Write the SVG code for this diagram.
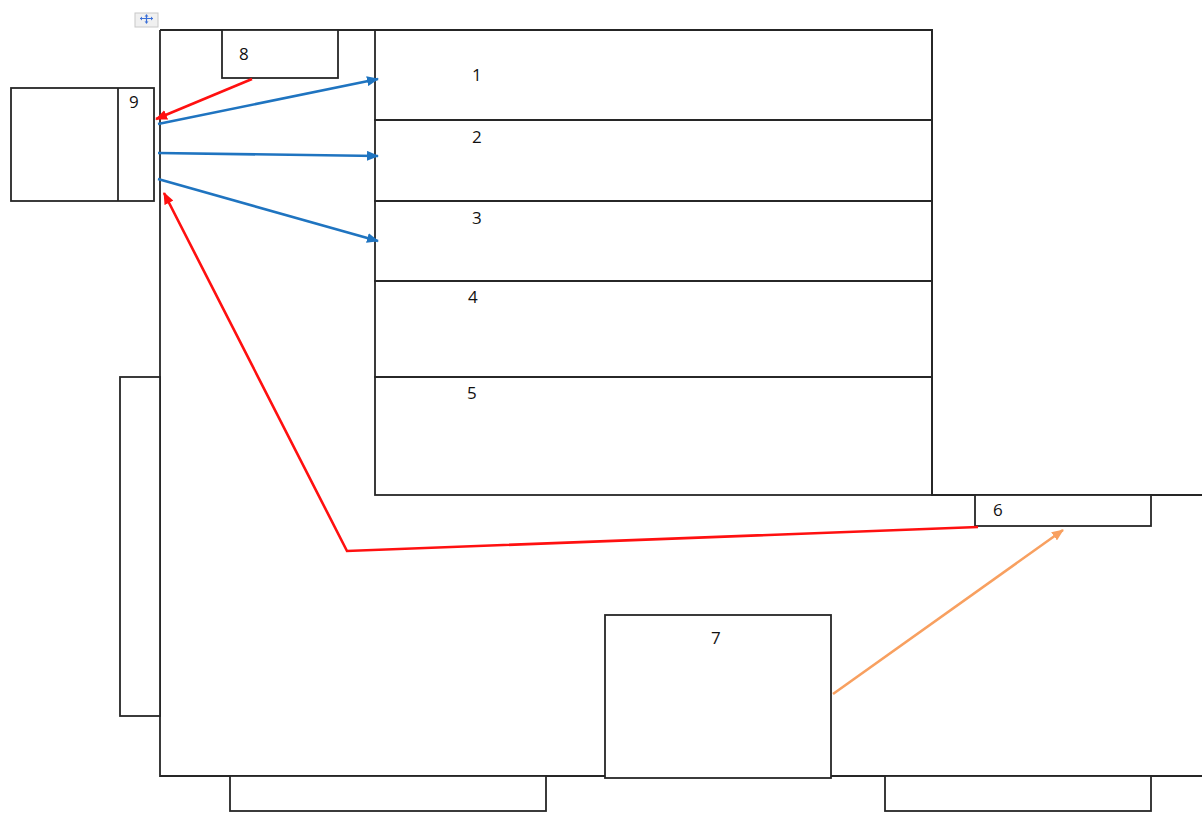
<svg xmlns="http://www.w3.org/2000/svg" width="1202" height="816" viewBox="0 0 1202 816">
<style>
.b{fill:none;stroke:#262626;stroke-width:1.8}
.w{fill:#fff;stroke:#262626;stroke-width:1.8}
.t{font-family:"Open Sans","Liberation Sans",sans-serif;font-size:17px;fill:#111}
.red{stroke:#ff1010;stroke-width:2.6;fill:none}
.blue{stroke:#1f74c0;stroke-width:2.6;fill:none}
.org{stroke:#f8a060;stroke-width:2.6;fill:none}
</style>
<defs>
<marker id="ar" markerWidth="12" markerHeight="10" refX="11" refY="5" orient="auto" markerUnits="userSpaceOnUse"><path d="M0,0 L12,5 L0,10 z" fill="#ff1010"/></marker>
<marker id="ab" markerWidth="12" markerHeight="10" refX="11" refY="5" orient="auto" markerUnits="userSpaceOnUse"><path d="M0,0 L12,5 L0,10 z" fill="#1f74c0"/></marker>
<marker id="ao" markerWidth="12" markerHeight="10" refX="11" refY="5" orient="auto" markerUnits="userSpaceOnUse"><path d="M0,0 L12,5 L0,10 z" fill="#f8a060"/></marker>
</defs>
<rect width="1202" height="816" fill="#fff"/>
<g id="handle">
<rect x="135" y="13" width="23" height="14" fill="#f0f0f0" stroke="#c8c8c8" stroke-width="1"/>
<path d="M140,18.5 H153 M146.5,14.5 V23.5" stroke="#3a6fd8" stroke-width="1.2"/>
<path d="M140,18.5 l2,-2 v4 z M153,18.5 l-2,-2 v4 z M146.5,23.5 l-2,-2 h4 z M146.5,14.5 l-2,2 h4 z" fill="#3a6fd8"/>
</g>
<g id="outline">
<path class="b" d="M160,30 H932 V495 H1202 M160,30 V776 H1202"/>
</g>
<g id="left-panel"><rect class="w" x="120" y="377" width="40" height="339"/></g>
<g id="n1"><rect class="b" x="375" y="30" width="557" height="90"/><text class="t" x="472" y="81">1</text></g>
<g id="n2"><rect class="b" x="375" y="120" width="557" height="81"/><text class="t" x="472" y="143">2</text></g>
<g id="n3"><rect class="b" x="375" y="201" width="557" height="80"/><text class="t" x="472" y="224">3</text></g>
<g id="n4"><rect class="b" x="375" y="281" width="557" height="96"/><text class="t" x="468" y="303">4</text></g>
<g id="n5"><rect class="b" x="375" y="377" width="557" height="118"/><text class="t" x="467" y="399">5</text></g>
<g id="n6"><rect class="w" x="975" y="495" width="176" height="31"/><text class="t" x="993" y="516">6</text></g>
<g id="n7"><rect class="w" x="605" y="615" width="226" height="163"/><text class="t" x="711" y="644">7</text></g>
<g id="n8"><rect class="w" x="222" y="30" width="116" height="48"/><text class="t" x="239" y="60">8</text></g>
<g id="n9"><rect class="w" x="11" y="88" width="143" height="113"/><line class="b" x1="118" y1="88" x2="118" y2="201"/><text class="t" x="129" y="108">9</text></g>
<g id="bottom-a"><rect class="w" x="230" y="776" width="316" height="35"/></g>
<g id="bottom-b"><rect class="w" x="885" y="776" width="266" height="35"/></g>
<g id="connectors">
<line class="red" x1="252" y1="79" x2="156" y2="119" marker-end="url(#ar)"/>
<line class="blue" x1="158" y1="124" x2="378" y2="79" marker-end="url(#ab)"/>
<line class="blue" x1="158" y1="153" x2="378" y2="156" marker-end="url(#ab)"/>
<line class="blue" x1="158" y1="179" x2="378" y2="241" marker-end="url(#ab)"/>
<polyline class="red" points="978,527 347,551 164,193" marker-end="url(#ar)"/>
<line class="org" x1="833" y1="694" x2="1063" y2="530" marker-end="url(#ao)"/>
</g>
</svg>
